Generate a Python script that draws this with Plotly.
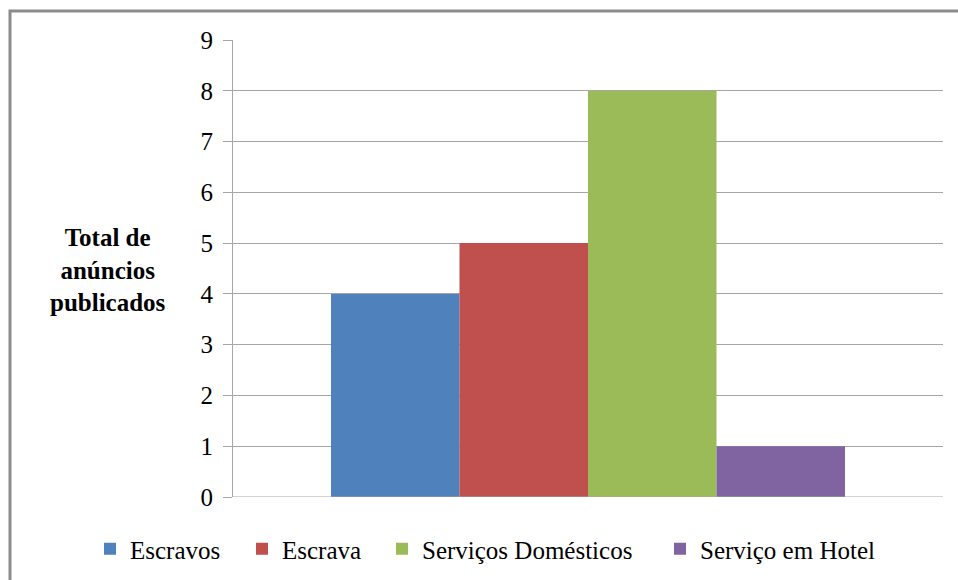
import plotly.graph_objects as go

series = ["Escravos", "Escrava", "Serviços Domésticos", "Serviço em Hotel"]
values = [4, 5, 8, 1]
colors = ["#4F81BD", "#C0504D", "#9BBB59", "#8064A2"]
category = [""]
y_ticks = list(range(0, 10))

W, H = 958, 580
L, R, T, B = 233, 15, 40, 83
pw = W - L - R
ph = H - T - B
SERIF = "Liberation Serif, Times New Roman, serif"
legend_text_x = [127, 279, 419, 697]  # pixel where each legend label starts

fig = go.Figure()
legend_ids = ["legend", "legend2", "legend3", "legend4"]
for name, v, c, lid in zip(series, values, colors, legend_ids):
    fig.add_trace(go.Bar(x=category, y=[v], name=name, legend=lid,
                         marker=dict(color=c, line=dict(width=0))))

def px2paper_x(px):
    return (px - L) / pw

def px2paper_y(py):
    return (H - B - py) / ph

legend_common = dict(orientation="h", xanchor="left", xref="container",
                     y=1 - 549 / H, yanchor="middle", yref="container",
                     font=dict(size=25, family=SERIF, color="black"), itemwidth=30,
                     bgcolor="rgba(0,0,0,0)")
legends = {}
for lid, tx in zip(legend_ids, legend_text_x):
    legends[lid] = dict(legend_common, x=(tx - 37) / W)

fig.update_layout(
    width=W, height=H,
    margin=dict(l=L, r=R, t=T, b=B, autoexpand=False),
    paper_bgcolor="white", plot_bgcolor="white",
    barmode="group", bargap=0.276, bargroupgap=0,
    font=dict(family=SERIF, color="black"),
    showlegend=True,
    xaxis=dict(showticklabels=False, showgrid=False, zeroline=False, showline=False, ticks=""),
    yaxis=dict(range=[0, 9], tickvals=y_ticks, showgrid=True, gridcolor="#a6a6a6", gridwidth=1,
               showline=True, linecolor="#a6a6a6", linewidth=1, zeroline=False,
               ticks="outside", ticklen=9, tickcolor="#a6a6a6",
               tickfont=dict(size=25, family=SERIF, color="black"), ticklabelstandoff=5),
    shapes=[dict(type="rect", xref="paper", yref="paper",
                 x0=px2paper_x(10), x1=px2paper_x(W + 40),
                 y0=px2paper_y(H + 40), y1=px2paper_y(11),
                 line=dict(color="#8c8c8c", width=3), fillcolor="rgba(0,0,0,0)", layer="below")],
    annotations=[dict(text="<b>Total de<br>anúncios<br>publicados</b>", xref="paper", yref="paper",
                      x=px2paper_x(108), y=px2paper_y(270), xanchor="center", yanchor="middle",
                      showarrow=False, align="center",
                      font=dict(size=25, family=SERIF, color="black"))],
    **legends,
)
fig.add_hline(y=0, line=dict(color="#a6a6a6", width=1))

fig.write_html("out.html")
